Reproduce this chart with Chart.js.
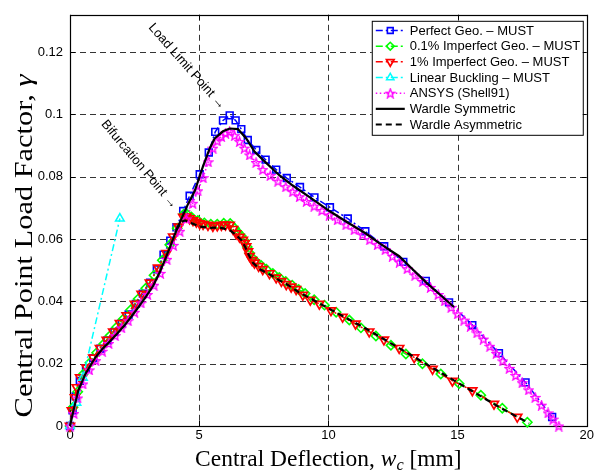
<!DOCTYPE html>
<html>
<head>
<meta charset="utf-8">
<title>Central point load factor vs deflection</title>
<script src="https://cdn.jsdelivr.net/npm/chart.js@4.4.1/dist/chart.umd.min.js"></script>
<style>
  html, body { margin: 0; padding: 0; background: #fff; }
  #wrap { width: 596px; height: 473px; }
</style>
</head>
<body>
<div id="wrap"><canvas id="loadChart" width="596" height="473"></canvas></div>
<script>
'use strict';

// ── Data ──────────────────────────────────────────────────────
const xTicks      = [0, 5, 10, 15, 20];
const xTickLabels = ['0', '5', '10', '15', '20'];
const yTicks      = [0, 0.02, 0.04, 0.06, 0.08, 0.1, 0.12];
const yTickLabels = ['0', '0.02', '0.04', '0.06', '0.08', '0.1', '0.12'];

// Perfect geometry (MUST)
const perfX = [0, 0.1, 0.22, 0.38, 0.62, 0.9, 1.18, 1.45, 1.72, 2.0, 2.27, 2.55, 2.82, 3.1, 3.36, 3.62, 3.88, 4.12, 4.38, 4.63,
               5.02, 5.37, 5.62, 5.92, 6.18, 6.41, 6.63, 6.88, 7.21, 7.57, 7.98, 8.39, 8.9, 9.46, 10.06, 10.75, 11.43, 12.16,
               12.9, 13.77, 14.67, 15.57, 16.6, 17.63, 18.66];
const perfY = [0, 0.005, 0.0095, 0.0145, 0.0185, 0.0218, 0.0248, 0.0275, 0.0302, 0.033, 0.0358, 0.0392, 0.0425, 0.046, 0.0503,
               0.055, 0.0595, 0.0638, 0.069, 0.0739, 0.0808, 0.0878, 0.0944, 0.0981, 0.0997, 0.0981, 0.0953, 0.0918, 0.0886,
               0.0855, 0.0823, 0.0796, 0.0767, 0.0734, 0.0702, 0.0666, 0.0625, 0.0577, 0.0527, 0.0466, 0.0397, 0.0324,
               0.0234, 0.014, 0.0029];

// 0.1% imperfection (MUST)
const imp01X = [0, 0.12, 0.3, 0.5, 0.77, 1.03, 1.3, 1.55, 1.8, 2.06, 2.35, 2.64, 2.93, 3.25, 3.57, 3.86, 4.15, 4.4, 4.55, 4.7,
                4.95, 5.2, 5.45, 5.7, 5.95, 6.2, 6.37, 6.5, 6.63, 6.76, 6.86, 6.95, 7.05, 7.2, 7.4, 7.6, 7.85, 8.1, 8.35, 8.6,
                8.85, 9.1, 9.45, 9.85, 10.3, 10.81, 11.26, 11.84, 12.42, 13.0, 13.64, 14.35, 15.06, 15.9, 16.73, 17.7];
const imp01Y = [0, 0.006, 0.011, 0.0165, 0.0203, 0.0235, 0.0263, 0.029, 0.0317, 0.0343, 0.0373, 0.0408, 0.0442, 0.0484, 0.0532,
                0.0582, 0.0635, 0.068, 0.0678, 0.0671, 0.066, 0.0652, 0.0648, 0.0648, 0.0651, 0.065, 0.0635, 0.0622, 0.061,
                0.0595, 0.0575, 0.0555, 0.054, 0.0528, 0.0515, 0.0503, 0.049, 0.0477, 0.0464, 0.0452, 0.0438, 0.0425, 0.0405,
                0.0388, 0.0365, 0.034, 0.0315, 0.0289, 0.0259, 0.0231, 0.02, 0.0167, 0.0136, 0.0099, 0.0057, 0.0012];

// 1% imperfection (MUST)
const imp1X = [0, 0.07, 0.19, 0.26, 0.39, 0.64, 0.9, 1.16, 1.42, 1.67, 1.93, 2.19, 2.51, 2.77, 3.09, 3.41, 3.73, 3.99, 4.2, 4.38,
               4.5, 4.63, 4.76, 4.89, 5.02, 5.15, 5.34, 5.53, 5.7, 5.86, 6.02, 6.18, 6.31, 6.43, 6.56, 6.69, 6.76, 6.82, 6.89,
               6.95, 7.05, 7.14, 7.3, 7.46, 7.72, 7.98, 8.18, 8.37, 8.56, 8.75, 9.01, 9.3, 9.65, 10.1, 10.55, 11.05, 11.58,
               12.15, 12.74, 13.32, 14.03, 14.8, 15.57, 16.41, 17.31];
const imp1Y = [0, 0.005, 0.0092, 0.0124, 0.0156, 0.0187, 0.0219, 0.025, 0.0276, 0.0303, 0.033, 0.0355, 0.0392, 0.0424, 0.046,
               0.0508, 0.0555, 0.0608, 0.064, 0.0671, 0.0672, 0.0666, 0.066, 0.0655, 0.065, 0.0648, 0.0645, 0.0642, 0.0643,
               0.0645, 0.0646, 0.0645, 0.0632, 0.0618, 0.0607, 0.0597, 0.0587, 0.0576, 0.056, 0.0545, 0.0532, 0.0524, 0.0513,
               0.0503, 0.049, 0.0476, 0.0465, 0.0455, 0.0447, 0.0439, 0.0421, 0.0405, 0.0392, 0.0371, 0.035, 0.0328, 0.0303,
               0.0277, 0.025, 0.022, 0.0183, 0.0145, 0.0114, 0.0071, 0.0029];

// Linear buckling (MUST)
const buckX = [0, 0.25, 0.5, 1.93];
const buckY = [0, 0.0075, 0.0155, 0.0666];

// ANSYS Shell91
const ansysX = [0, 0.15, 0.3, 0.5, 0.75, 1.0, 1.25, 1.5, 1.75, 2.0, 2.25, 2.5, 2.75, 3.0, 3.25, 3.5, 3.75, 4.0, 4.25, 4.5,
                4.75, 4.95, 5.15, 5.35, 5.53, 5.7, 5.86, 6.02, 6.18, 6.37, 6.56, 6.75, 6.95, 7.2, 7.46, 7.75, 8.05, 8.35,
                8.62, 8.88, 9.15, 9.45, 9.75, 10.04, 10.35, 10.68, 11.0, 11.32, 11.6, 11.9, 12.2, 12.48, 12.75, 13.05,
                13.35, 13.65, 13.95, 14.25, 14.5, 14.75, 15.0, 15.25, 15.5, 15.75, 16.0, 16.25, 16.5, 16.75, 17.0, 17.25,
                17.5, 17.75, 18.0, 18.25, 18.5, 18.7, 18.92];
const ansysY = [0, 0.004, 0.009, 0.0135, 0.018, 0.021, 0.024, 0.0265, 0.029, 0.0315, 0.0338, 0.0365, 0.0395, 0.0422, 0.0452,
                0.049, 0.0535, 0.058, 0.0625, 0.0665, 0.0715, 0.0755, 0.0797, 0.0848, 0.0892, 0.0915, 0.0929, 0.094, 0.0945,
                0.0932, 0.0913, 0.0892, 0.087, 0.0846, 0.0823, 0.0804, 0.0786, 0.0768, 0.0752, 0.0736, 0.0721, 0.0706,
                0.0692, 0.0677, 0.0662, 0.0646, 0.063, 0.0614, 0.0598, 0.0582, 0.0566, 0.0545, 0.0526, 0.0505, 0.0484,
                0.0464, 0.0445, 0.0422, 0.0402, 0.0381, 0.036, 0.034, 0.032, 0.0299, 0.0279, 0.0256, 0.0233, 0.0209,
                0.0185, 0.0162, 0.0139, 0.0116, 0.0092, 0.0067, 0.0042, 0.0022, 0.0];

// Wardle, symmetric path
const wardSymX = [0, 0.12, 0.32, 0.6, 0.97, 1.25, 1.54, 1.83, 2.12, 2.4, 2.7, 2.96, 3.22, 3.48, 3.73, 3.93, 4.12, 4.35, 4.57,
                  4.83, 5.15, 5.41, 5.6, 5.92, 6.18, 6.5, 6.82, 7.14, 7.5, 8.1, 8.62, 9.3, 10.04, 10.81, 11.45, 11.97,
                  12.74, 13.2, 13.77, 14.3, 14.86];
const wardSymY = [0, 0.0045, 0.0114, 0.0168, 0.0219, 0.0247, 0.0271, 0.0297, 0.0324, 0.0354, 0.0387, 0.0418, 0.045, 0.0495,
                  0.0545, 0.0587, 0.0629, 0.0672, 0.0713, 0.0755, 0.0834, 0.0892, 0.0923, 0.0946, 0.0955, 0.0953, 0.0923,
                  0.0881, 0.0852, 0.0805, 0.0772, 0.0733, 0.069, 0.065, 0.0618, 0.0587, 0.0545, 0.0508, 0.0462, 0.0423, 0.0382];

// Wardle, asymmetric path (from bifurcation)
const wardAsyX = [4.12, 4.3, 4.45, 4.6, 5.02, 5.4, 5.79, 6.18, 6.4, 6.63, 6.78, 6.88, 7.08, 7.35, 7.72, 8.1, 8.49, 8.88, 9.14,
                  10.04, 11.45, 12.74, 14.03, 15.32, 16.6, 17.76];
const wardAsyY = [0.0629, 0.0655, 0.066, 0.0655, 0.064, 0.0636, 0.0637, 0.0629, 0.0615, 0.0597, 0.0575, 0.0555, 0.0524,
                  0.0503, 0.0487, 0.0468, 0.045, 0.0428, 0.0417, 0.0376, 0.0313, 0.025, 0.0187, 0.0124, 0.0061, 0.0009];

const seriesLabels = [
    'Perfect Geo. \u2013 MUST',
    '0.1% Imperfect Geo. \u2013 MUST',
    '1% Imperfect Geo. \u2013 MUST',
    'Linear Buckling \u2013 MUST',
    'ANSYS (Shell91)',
    'Wardle Symmetric',
    'Wardle Asymmetric'
];

// ── Helpers ───────────────────────────────────────────────────
function zip(xs, ys) { return xs.map((x, i) => ({ x, y: ys[i] })); }

function makePentagram(color, size, lw) {
    const c = document.createElement('canvas');
    c.width = c.height = size;
    const g = c.getContext('2d');
    const cx = size / 2, cy = size / 2 + 0.5, r = size / 2 - 0.8;
    g.beginPath();
    for (let i = 0; i < 10; i++) {
        const ang = -Math.PI / 2 + i * Math.PI / 5;
        const rr  = i % 2 ? r * 0.42 : r;
        g.lineTo(cx + rr * Math.cos(ang), cy + rr * Math.sin(ang));
    }
    g.closePath();
    g.strokeStyle = color;
    g.lineWidth = lw;
    g.stroke();
    return c;
}

const SANS  = '"Liberation Sans", Arial, sans-serif';
const SERIF = '"Liberation Serif", "Times New Roman", serif';
const DASHDOT = [7, 3, 2, 3];
const NONE = 'rgba(0,0,0,0)';
const star = makePentagram('#ff00ff', 11, 1.4);

function series(label, data, color, extra) {
    return Object.assign({
        label, data,
        borderColor: color, pointBorderColor: color, pointBackgroundColor: NONE,
        borderWidth: 1.5, pointBorderWidth: 1.5, pointRadius: 4,
        fill: false, tension: 0, clip: false
    }, extra);
}

const datasets = [
    series(seriesLabels[5], zip(wardSymX, wardSymY), '#000000', { borderWidth: 2.2, pointRadius: 0, order: 0 }),
    series(seriesLabels[6], zip(wardAsyX, wardAsyY), '#000000', { borderWidth: 2.2, borderDash: [6, 4], pointRadius: 0, order: 1 }),
    series(seriesLabels[4], zip(ansysX, ansysY), '#ff00ff', { borderWidth: 1.5, borderDash: [1.5, 2.5], pointStyle: star, pointRadius: 5, order: 2 }),
    series(seriesLabels[3], zip(buckX, buckY), '#00ffff', { borderDash: DASHDOT, pointStyle: 'triangle', pointRadius: 5, order: 3 }),
    series(seriesLabels[2], zip(imp1X, imp1Y), '#ff0000', { borderDash: DASHDOT, pointStyle: 'triangle', pointRotation: 180, pointRadius: 5.2, pointBorderWidth: 1.7, order: 4 }),
    series(seriesLabels[1], zip(imp01X, imp01Y), '#00ff00', { borderDash: DASHDOT, pointStyle: 'rectRot', pointRadius: 4.6, pointBorderWidth: 1.6, order: 5 }),
    series(seriesLabels[0], zip(perfX, perfY), '#0000ff', { borderDash: DASHDOT, pointStyle: 'rect', pointRadius: 4.8, pointBorderWidth: 1.6, order: 6 })
];

// legend rows follow plotting order
const legendOrder = [6, 5, 4, 3, 2, 0, 1];

// ── Plot furniture ────────────────────────────────────────────
function strokeLine(ctx, x1, y1, x2, y2) {
    ctx.beginPath(); ctx.moveTo(x1, y1); ctx.lineTo(x2, y2); ctx.stroke();
}

// draws mixed-font text centred on cx, stretched along the baseline by sx
function drawRich(ctx, parts, cx, baseY, sx) {
    let w = 0;
    parts.forEach(p => { ctx.font = p.font; w += ctx.measureText(p.text).width; });
    ctx.save();
    ctx.translate(cx, baseY);
    ctx.scale(sx || 1, 1);
    let x = -w / 2;
    parts.forEach(p => {
        ctx.font = p.font;
        ctx.fillText(p.text, x, p.dy || 0);
        x += ctx.measureText(p.text).width;
    });
    ctx.restore();
}

const axesPlugin = {
    id: 'axesPlugin',
    beforeDatasetsDraw(chart) {
        const { ctx, chartArea: a, scales: { x, y } } = chart;
        ctx.save();
        ctx.strokeStyle = '#000';
        ctx.lineWidth = 0.8;
        ctx.setLineDash([6, 4]);
        xTicks.forEach(v => {
            if (v <= x.min || v >= x.max) return;
            const px = Math.round(x.getPixelForValue(v)) + 0.5;
            strokeLine(ctx, px, a.top, px, a.bottom);
        });
        yTicks.forEach(v => {
            if (v <= y.min || v >= y.max) return;
            const py = Math.round(y.getPixelForValue(v)) + 0.5;
            strokeLine(ctx, a.left, py, a.right, py);
        });
        ctx.setLineDash([]);
        ctx.lineWidth = 1;
        xTicks.forEach(v => {
            const px = Math.round(x.getPixelForValue(v)) + 0.5;
            strokeLine(ctx, px, a.bottom, px, a.bottom - 5);
            strokeLine(ctx, px, a.top, px, a.top + 5);
        });
        yTicks.forEach(v => {
            const py = Math.round(y.getPixelForValue(v)) + 0.5;
            strokeLine(ctx, a.left, py, a.left + 5, py);
            strokeLine(ctx, a.right, py, a.right - 5, py);
        });
        ctx.lineWidth = 1.2;
        ctx.strokeRect(Math.round(a.left) + 0.5, Math.round(a.top) + 0.5,
                       Math.round(a.right - a.left), Math.round(a.bottom - a.top));
        ctx.restore();
    },
    afterDatasetsDraw(chart) {
        const { ctx, scales: { x, y } } = chart;
        const notes = [
            { text: 'Load Limit Point \u2192',  at: [3.12, 0.1286], angle: 48.5 },
            { text: 'Bifurcation Point \u2192', at: [1.3, 0.0976], angle: 50 }
        ];
        ctx.save();
        ctx.fillStyle = '#000';
        ctx.font = '13px ' + SANS;
        ctx.textBaseline = 'middle';
        ctx.textAlign = 'left';
        notes.forEach(n => {
            ctx.save();
            ctx.translate(x.getPixelForValue(n.at[0]), y.getPixelForValue(n.at[1]));
            ctx.rotate(n.angle * Math.PI / 180);
            ctx.fillText(n.text, 0, 0);
            ctx.restore();
        });
        ctx.restore();
    },
    afterDraw(chart) {
        const { ctx, chartArea: a } = chart;
        ctx.save();
        ctx.fillStyle = '#000';
        ctx.textBaseline = 'alphabetic';

        // axis titles
        drawRich(ctx, [
            { text: 'Central Deflection, ', font: '23px ' + SERIF },
            { text: 'w', font: 'italic 23px ' + SERIF },
            { text: 'c', font: 'italic 16px ' + SERIF, dy: 4 },
            { text: ' [mm]', font: '23px ' + SERIF }
        ], (a.left + a.right) / 2, a.bottom + 40, 1.02);

        ctx.save();
        ctx.translate(32, 246);
        ctx.rotate(-Math.PI / 2);
        drawRich(ctx, [
            { text: 'Central Point Load Factor, ', font: '26px ' + SERIF },
            { text: '\u03b3', font: 'italic 26px ' + SERIF }
        ], 0, 0, 1.17);
        ctx.restore();

        // legend box
        const bx = a.right - 215, by = a.top + 6, bw = 211, bh = 114;
        ctx.fillStyle = '#fff';
        ctx.fillRect(bx, by, bw, bh);
        ctx.strokeStyle = '#000';
        ctx.lineWidth = 1;
        ctx.strokeRect(bx + 0.5, by + 0.5, bw, bh);

        ctx.font = '13px ' + SANS;
        ctx.textBaseline = 'middle';
        legendOrder.forEach((di, row) => {
            const ds = chart.data.datasets[di];
            const ry = by + 9.7 + row * 15.67;
            ctx.save();
            ctx.strokeStyle = ds.borderColor;
            ctx.lineWidth = ds.borderWidth;
            ctx.setLineDash(ds.borderDash || []);
            strokeLine(ctx, bx + 4, ry, bx + 33, ry);
            ctx.setLineDash([]);
            if (ds.pointRadius > 0) {
                ctx.fillStyle = NONE;
                ctx.strokeStyle = ds.pointBorderColor;
                ctx.lineWidth = ds.pointBorderWidth;
                Chart.helpers.drawPoint(ctx, {
                    pointStyle: ds.pointStyle || 'circle',
                    rotation: ds.pointRotation || 0,
                    radius: ds.pointRadius * 0.85,
                    borderWidth: ds.pointBorderWidth
                }, bx + 18.5, ry);
            }
            ctx.restore();
            ctx.fillStyle = '#000';
            ctx.fillText(ds.label, bx + 38, ry + 0.5);
        });
        ctx.restore();
    }
};

// ── Chart ─────────────────────────────────────────────────────
new Chart(document.getElementById('loadChart').getContext('2d'), {
    type: 'line',
    data: { datasets },
    options: {
        responsive: false,
        animation: false,
        devicePixelRatio: 1,
        events: [],
        layout: { padding: { top: 7, right: 8, left: 0, bottom: 0 } },
        scales: {
            x: {
                type: 'linear', min: 0, max: 20,
                afterBuildTicks: s => { s.ticks = xTicks.map(v => ({ value: v })); },
                afterFit: s => { s.height = 47; },
                grid: { display: false, drawTicks: false },
                border: { display: false },
                ticks: {
                    autoSkip: false, maxRotation: 0, padding: 2, color: '#000',
                    font: { family: SANS, size: 13 },
                    callback: (v, i) => xTickLabels[i]
                }
            },
            y: {
                type: 'linear', min: 0, max: 0.132,
                afterBuildTicks: s => { s.ticks = yTicks.map(v => ({ value: v })); },
                afterFit: s => { s.width = 70; },
                grid: { display: false, drawTicks: false },
                border: { display: false },
                ticks: {
                    autoSkip: false, padding: 7, color: '#000',
                    font: { family: SANS, size: 13 },
                    callback: (v, i) => yTickLabels[i]
                }
            }
        },
        plugins: { legend: { display: false }, tooltip: { enabled: false } }
    },
    plugins: [axesPlugin]
});
</script>
</body>
</html>
